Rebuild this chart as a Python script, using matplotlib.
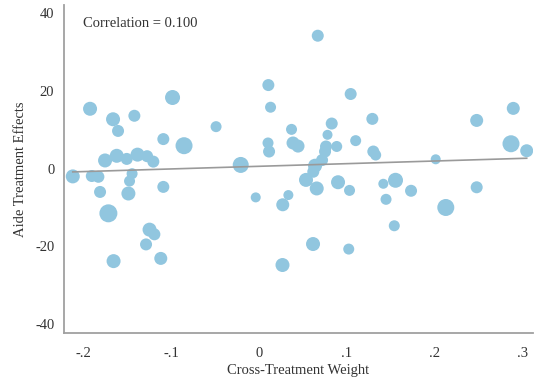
import matplotlib
matplotlib.use('Agg')
import matplotlib.pyplot as plt
import numpy as np

plt.rcParams['font.family'] = ['Liberation Serif', 'DejaVu Serif']

# cross-treatment weight, aide treatment effect, point weight
cross_weight = [-0.2125, -0.1928, -0.1666, -0.1609, -0.1423, -0.0988, -0.1093, -0.0857,
                -0.0492, -0.0211, -0.1757, -0.1624, -0.1510, -0.1387, -0.1278, -0.1207,
                -0.1908, -0.1833, -0.1449, -0.1478, -0.1814, -0.1491, -0.1093, -0.1719,
                -0.1250, -0.1195, -0.1290, -0.1660, -0.1122, -0.0040, 0.0667, 0.0104,
                0.0129, 0.1042, 0.1289, 0.2478, 0.2895, 0.0368, 0.0100, 0.0112,
                0.0385, 0.0442, 0.0826, 0.0778, 0.0761, 0.0883, 0.0750, 0.0716,
                0.0636, 0.0616, 0.1099, 0.1300, 0.1327, 0.2011, 0.2869, 0.3048,
                0.2478, 0.0533, 0.0655, 0.0898, 0.1029, 0.1414, 0.1553, 0.1730,
                0.0268, 0.0332, 0.0613, 0.1020, 0.0265, 0.1445, 0.1539, 0.2126]
aide_effect = [-2.0, 15.4, 12.7, 9.7, 13.6, 18.3, 7.6, 5.9,
               10.8, 0.95, 2.1, 3.3, 2.5, 3.6, 3.2, 1.8,
               -1.9, -2.1, -1.3, -3.2, -6.0, -6.4, -4.7, -11.5,
               -15.7, -16.9, -19.5, -23.8, -23.1, -7.4, 34.2, 21.5,
               15.8, 19.2, 12.8, 12.4, 15.5, 10.1, 6.6, 4.4,
               6.6, 5.8, 11.6, 8.7, 5.7, 5.7, 4.4, 2.2,
               0.75, -0.8, 7.2, 4.4, 3.5, 2.4, 6.4, 4.6,
               -4.8, -2.9, -5.1, -3.5, -5.6, -3.9, -3.0, -5.7,
               -9.3, -6.8, -19.4, -20.7, -24.8, -7.9, -14.7, -10.0]
weight = [7, 7, 7, 6, 6, 7.5, 6, 8.5,
          5.5, 8, 7, 7, 6, 7, 6, 6,
          6, 6, 5.5, 5.5, 6, 7, 6, 9,
          7, 6, 6, 7, 6.5, 5, 6, 6,
          5.5, 6, 6, 6.5, 6.5, 5.5, 5.5, 6,
          6.5, 6.5, 6, 5, 6, 5.5, 6, 6,
          7, 6, 5.5, 6, 5.5, 5, 8.5, 6.5,
          6, 7, 7, 7, 5.5, 5, 7.5, 6,
          6.5, 5, 7, 5.5, 7, 5.5, 5.5, 8.5]

fit_slope = 6.8
fit_intercept = 0.6
correlation = 0.100

x_ticks = [-0.2, -0.1, 0, 0.1, 0.2, 0.3]
x_tick_labels = ['-.2', '-.1', '0', '.1', '.2', '.3']
y_ticks = [40, 20, 0, -20, -40]
y_tick_labels = ['40', '20', '0', '-20', '-40']

x = np.array(cross_weight)
y = np.array(aide_effect)
sizes = (np.array(weight) * 1.44) ** 2

fig = plt.figure(figsize=(5.34, 3.85), dpi=100)
ax = fig.add_axes([0.12, 0.136, 0.878, 0.851])

ax.scatter(x, y, s=sizes, color='#91c6df', edgecolors='none', zorder=2)

line_x = np.array([x.min(), x.max()])
ax.plot(line_x, fit_intercept + fit_slope * line_x, color='#9a9a9a', linewidth=1.2, zorder=3)

ax.set_xlim(-0.2224, 0.3119)
ax.set_ylim(-42.2, 42.1)
ax.set_xticks(x_ticks)
ax.set_xticklabels(x_tick_labels)
ax.set_yticks(y_ticks)
ax.set_yticklabels(y_tick_labels)
ax.tick_params(axis='both', length=0, labelsize=10.5, colors='#333333')
ax.tick_params(axis='x', pad=10)
ax.tick_params(axis='y', pad=7)

for side in ['top', 'right']:
    ax.spines[side].set_visible(False)
for side in ['left', 'bottom']:
    ax.spines[side].set_color('#a0a0a0')
    ax.spines[side].set_linewidth(1.3)

ax.set_xlabel('Cross-Treatment Weight', fontsize=10.5, color='#333333', labelpad=3)
ax.set_ylabel('Aide Treatment Effects', fontsize=10.5, color='#333333', labelpad=6)

ax.text(0.04, 0.945, 'Correlation = %.3f' % correlation, transform=ax.transAxes,
        fontsize=10.5, color='#333333', va='center', ha='left')

fig.savefig('out.png', dpi=100)
